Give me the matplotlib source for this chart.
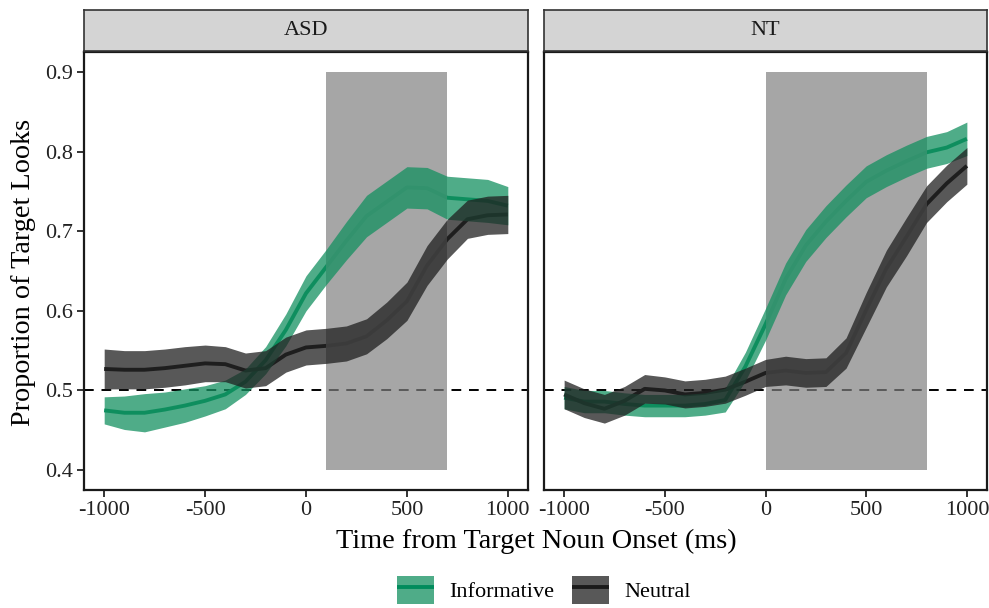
import numpy as np
import matplotlib
matplotlib.use('Agg')
import matplotlib.pyplot as plt
from matplotlib.patches import Patch, Rectangle
from matplotlib.lines import Line2D
from matplotlib.legend_handler import HandlerTuple

plt.rcParams['font.family'] = ['Liberation Serif', 'DejaVu Serif']
plt.rcParams['axes.unicode_minus'] = False

# time bins (ms from target noun onset)
time = [-1000, -900, -800, -700, -600, -500, -400, -300, -200, -100, 0,
        100, 200, 300, 400, 500, 600, 700, 800, 900, 1000]

# ASD group
asd_inf = [0.475, 0.472, 0.472, 0.476, 0.481, 0.487, 0.495, 0.511, 0.538, 0.576, 0.622,
           0.655, 0.688, 0.719, 0.737, 0.755, 0.754, 0.742, 0.740, 0.738, 0.732]
asd_inf_se = [0.017, 0.021, 0.024, 0.022, 0.021, 0.019, 0.018, 0.016, 0.017, 0.020, 0.022,
              0.022, 0.024, 0.026, 0.026, 0.026, 0.026, 0.027, 0.027, 0.027, 0.024]
asd_neu = [0.527, 0.526, 0.526, 0.528, 0.531, 0.534, 0.533, 0.525, 0.528, 0.545, 0.554,
           0.556, 0.559, 0.568, 0.588, 0.612, 0.657, 0.690, 0.715, 0.720, 0.721]
asd_neu_se = [0.025, 0.024, 0.024, 0.024, 0.024, 0.023, 0.022, 0.022, 0.022, 0.022, 0.022,
              0.022, 0.022, 0.022, 0.023, 0.024, 0.025, 0.025, 0.024, 0.024, 0.024]

# NT group
nt_inf = [0.491, 0.486, 0.486, 0.483, 0.481, 0.481, 0.481, 0.483, 0.488, 0.530, 0.583,
          0.640, 0.682, 0.712, 0.738, 0.762, 0.776, 0.788, 0.799, 0.805, 0.816]
nt_inf_se = [0.014, 0.014, 0.014, 0.014, 0.014, 0.014, 0.014, 0.014, 0.015, 0.018, 0.020,
             0.020, 0.020, 0.020, 0.020, 0.020, 0.020, 0.020, 0.020, 0.020, 0.021]
nt_neu = [0.495, 0.484, 0.477, 0.487, 0.502, 0.500, 0.495, 0.497, 0.501, 0.511, 0.522,
          0.525, 0.522, 0.523, 0.547, 0.601, 0.653, 0.693, 0.734, 0.760, 0.782]
nt_neu_se = [0.018, 0.018, 0.018, 0.018, 0.018, 0.017, 0.017, 0.017, 0.017, 0.017, 0.017,
             0.018, 0.018, 0.018, 0.019, 0.022, 0.023, 0.024, 0.023, 0.023, 0.023]

panels = ['ASD', 'NT']
windows = [(100, 700), (0, 800)]  # shaded analysis window per group
window_y = (0.4, 0.9)

green_line = '#008c5c'
green_fill = '#149060'
black_line = '#1a1a1a'
black_fill = '#202020'
dash_on, dash_off, dash_lw = 5, 4, 1.4
xlo, xhi = -1100, 1100

W, H = 989, 608
fig = plt.figure(figsize=(W / 100, H / 100), dpi=100)


def px_axes(x0, y0, x1, y1):
    return fig.add_axes([x0 / W, 1 - y1 / H, (x1 - x0) / W, (y1 - y0) / H])


data = {
    'ASD': (asd_inf, asd_inf_se, asd_neu, asd_neu_se),
    'NT': (nt_inf, nt_inf_se, nt_neu, nt_neu_se),
}
lefts = [(84, 528), (544, 987)]

t = np.array(time)
for i, name in enumerate(panels):
    x0, x1 = lefts[i]
    ax = px_axes(x0, 52, x1, 490)
    inf, inf_se, neu, neu_se = [np.array(v) for v in data[name]]
    w0, w1 = windows[i]

    # lines sit under the window rectangle, ribbons on top of it
    ax.axhline(0.5, color='black', lw=dash_lw, ls=(0, (dash_on, dash_off)), zorder=1)
    ax.plot(t, inf, color=green_line, lw=2.8, solid_capstyle='butt', zorder=2)
    ax.plot(t, neu, color=black_line, lw=2.8, solid_capstyle='butt', zorder=2)
    ax.add_patch(Rectangle((w0, window_y[0]), w1 - w0, window_y[1] - window_y[0],
                           facecolor='#9c9c9c', alpha=0.9, lw=0, zorder=3))
    # grey dashes over the window, phase matched to the full dashed line
    f0, f1 = (w0 - xlo) / (xhi - xlo), (w1 - xlo) / (xhi - xlo)
    off = (f0 * (x1 - x0) * 0.72 / dash_lw) % (dash_on + dash_off)
    ax.axhline(0.5, f0, f1, color='#5a5a5a', lw=dash_lw,
               ls=(off, (dash_on, dash_off)), zorder=3.5)
    ax.fill_between(t, inf - inf_se, inf + inf_se, color=green_fill, alpha=0.75, lw=0, zorder=4)
    ax.fill_between(t, neu - neu_se, neu + neu_se, color=black_fill, alpha=0.75, lw=0, zorder=4)

    ax.set_xlim(xlo, xhi)
    ax.set_ylim(0.375, 0.925)
    ax.set_xticks([-1000, -500, 0, 500, 1000])
    ax.set_xticklabels(['-1000', '-500', '0', '500', '1000'])
    ax.set_yticks([0.4, 0.5, 0.6, 0.7, 0.8, 0.9])
    ax.tick_params(length=5, width=1.4, color='#333333', labelsize=16,
                   labelcolor='#222222', pad=3)
    if i == 1:
        ax.tick_params(axis='y', left=False, labelleft=False)
    for s in ax.spines.values():
        s.set_color('#1a1a1a')
        s.set_linewidth(1.6)

    st = px_axes(x0, 10, x1, 51)
    st.set_facecolor('#d4d4d4')
    st.set_xticks([])
    st.set_yticks([])
    for s in st.spines.values():
        s.set_color('#333333')
        s.set_linewidth(1.2)
    st.text(0.5, 0.5, name, ha='center', va='center', fontsize=16, color='#1a1a1a',
            transform=st.transAxes)

fig.text(24 / W, 1 - 272 / H, 'Proportion of Target Looks', rotation=90,
         ha='center', va='center', fontsize=20.3, color='black')
fig.text(536 / W, 1 - 541 / H, 'Time from Target Noun Onset (ms)',
         ha='center', va='center', fontsize=20.3, color='black')

h_inf = (Patch(facecolor=green_fill, alpha=0.75, lw=0),
         Line2D([], [], color=green_line, lw=2.8, solid_capstyle='butt'))
h_neu = (Patch(facecolor=black_fill, alpha=0.75, lw=0),
         Line2D([], [], color=black_line, lw=2.8, solid_capstyle='butt'))
fig.legend([h_inf, h_neu], ['Informative', 'Neutral'],
           handler_map={tuple: HandlerTuple(ndivide=1, pad=0)},
           loc='center', bbox_to_anchor=(544 / W, 1 - 590 / H), ncol=2, frameon=False,
           fontsize=16, handlelength=1.65, handleheight=1.55,
           handletextpad=0.7, columnspacing=0.8)

fig.savefig('out.png', dpi=100)
